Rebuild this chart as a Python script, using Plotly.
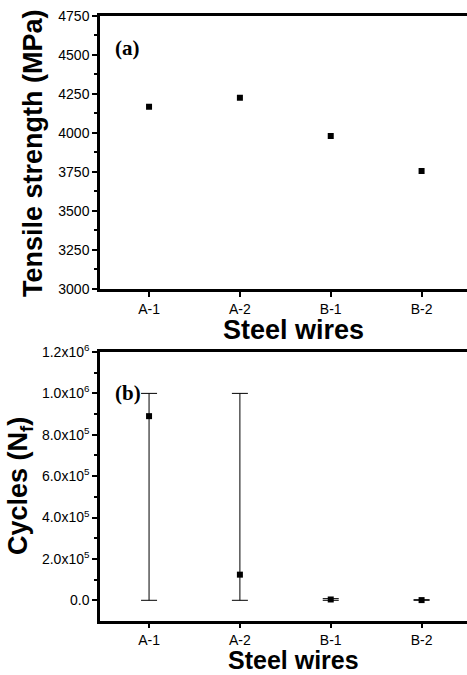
import plotly.graph_objects as go

wires = ["A-1", "A-2", "B-1", "B-2"]
tensile = [4167, 4224, 3979, 3755]
cycles = [890000, 124000, 4000, 1000]
cycles_lo = [0, 0, 0, 0]
cycles_hi = [1000000, 1000000, 8000, 3000]

y1_ticks = [3000, 3250, 3500, 3750, 4000, 4250, 4500, 4750]
y2_ticks = [0, 200000, 400000, 600000, 800000, 1000000, 1200000]
y2_text = ["0.0", "2.0x10<sup>5</sup>", "4.0x10<sup>5</sup>", "6.0x10<sup>5</sup>",
           "8.0x10<sup>5</sup>", "1.0x10<sup>6</sup>", "1.2x10<sup>6</sup>"]

W, H = 467, 675
L, R, T, B = 100, 0, 15, 54
pw = W - L - R
ph = H - T - B

def px_x(px):
    return (px - L) / pw

def px_y(py):
    return (H - B - py) / ph

fig = go.Figure()
fig.add_trace(go.Scatter(x=wires, y=tensile, mode="markers",
                         marker=dict(symbol="square", size=6, color="black"),
                         xaxis="x", yaxis="y", showlegend=False))
fig.add_trace(go.Scatter(x=wires, y=cycles, mode="markers",
                         marker=dict(symbol="square", size=6, color="black"),
                         error_y=dict(type="data", symmetric=False,
                                      array=[h - c for h, c in zip(cycles_hi, cycles)],
                                      arrayminus=[c - l for l, c in zip(cycles_lo, cycles)],
                                      color="black", thickness=1, width=8),
                         xaxis="x2", yaxis="y2", showlegend=False))

tickfont = dict(family="Liberation Sans, Arial", size=14, color="black")
titlefont = dict(family="Liberation Sans, Arial", size=27, color="black", weight="bold")
axcommon = dict(showline=True, linewidth=2.5, linecolor="black", mirror=True,
                ticks="outside", tickwidth=1.5, tickcolor="black",
                showgrid=False, zeroline=False, tickfont=tickfont, automargin=False)

top_lo, top_hi = px_y(289), px_y(15.7)
bot_lo, bot_hi = px_y(621), px_y(352)

fig.update_layout(
    width=W, height=H,
    margin=dict(l=L, r=R, t=T, b=B),
    plot_bgcolor="white", paper_bgcolor="white",
    xaxis=dict(domain=[0, 1], anchor="y", range=[-0.54, 3.5], ticklen=5, **axcommon),
    yaxis=dict(domain=[top_lo, min(top_hi, 1.0)], anchor="x", range=[3000, 4750],
               tickmode="array", tickvals=y1_ticks, ticklen=5,
               minor=dict(ticks="outside", ticklen=3, tickcolor="black",
                          tickvals=[v + 125 for v in y1_ticks[:-1]]),
               **axcommon),
    xaxis2=dict(domain=[0, 1], anchor="y2", range=[-0.54, 3.5], ticklen=4, **axcommon),
    yaxis2=dict(domain=[max(bot_lo, 0.0), bot_hi], anchor="x2", range=[-100000, 1200000],
                tickmode="array", tickvals=y2_ticks, ticktext=y2_text, ticklen=5,
                minor=dict(ticks="outside", ticklen=3, tickcolor="black",
                           tickvals=[v + 100000 for v in y2_ticks[:-1]]),
                **axcommon),
)

anns = []
for txt, px, py in [("<b>(a)</b>", 113, 48), ("<b>(b)</b>", 113, 393)]:
    anns.append(dict(text=txt, x=px_x(px), y=px_y(py), xref="paper", yref="paper",
                     xanchor="left", yanchor="middle", showarrow=False,
                     font=dict(family="Liberation Serif, Times New Roman", size=21, color="black")))
# axis titles
for txt, px, py, ang, anc, sz in [("Steel wires", 293, 330, 0, "middle", 27),
                                  ("Steel wires", 293, 675, 0, "bottom", 25),
                                  ("Tensile strength (MPa)", 33, 153, -90, "middle", 27),
                                  ("Cycles (N<sub>f</sub>)", 20, 486, -90, "middle", 27)]:
    anns.append(dict(text=txt, x=px_x(px), y=px_y(py), xref="paper", yref="paper",
                     xanchor="center", yanchor=anc, showarrow=False, textangle=ang,
                     borderpad=0, font=dict(titlefont, size=sz)))
fig.update_layout(annotations=anns)

fig.write_html("out.html", config={"displayModeBar": False},
               post_script="document.body.style.margin='0';document.body.style.overflow='hidden';")
